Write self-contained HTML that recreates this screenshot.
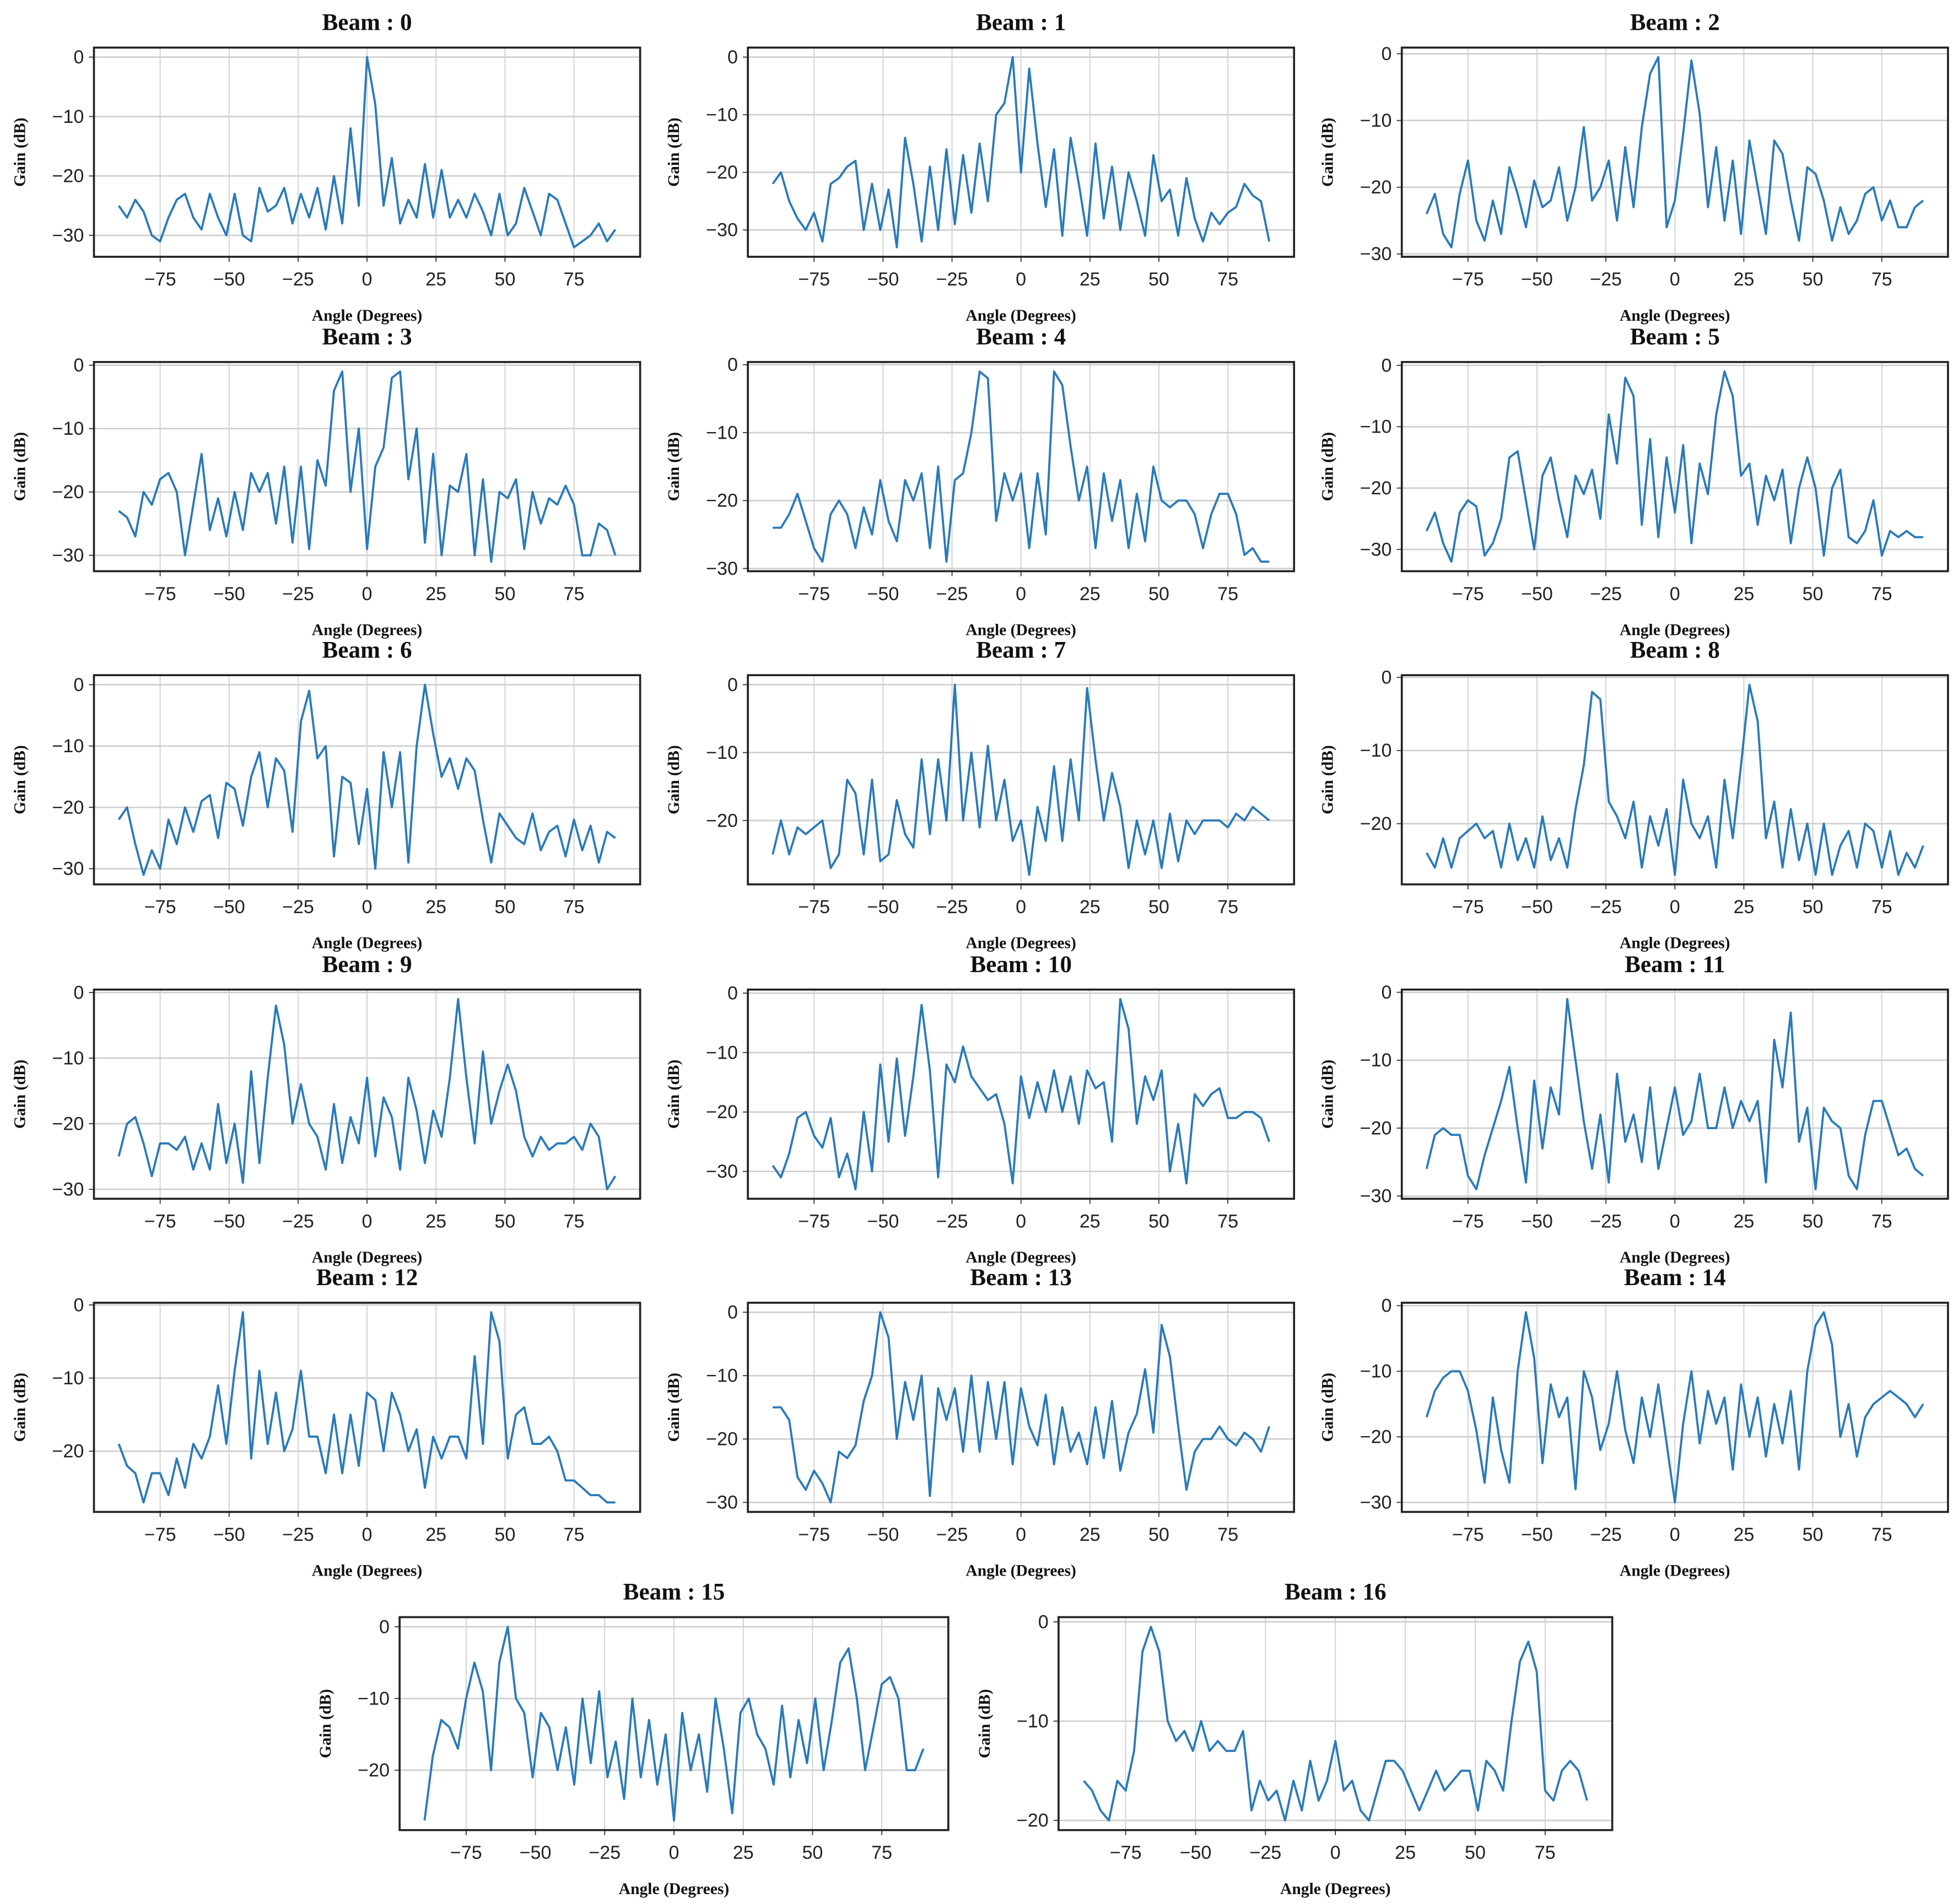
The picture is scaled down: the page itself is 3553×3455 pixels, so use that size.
<!DOCTYPE html>
<html><head><meta charset="utf-8"><title>Beam patterns</title>
<style>
html,body{margin:0;padding:0;background:#fff;}
svg{display:block;}
.tick{font-family:"Liberation Sans Narrow","Liberation Sans",sans-serif;font-size:15px;fill:#222;}
.ttl{font-family:"Liberation Serif",serif;font-weight:bold;font-size:19px;fill:#111;}
.lab{font-family:"Liberation Serif",serif;font-weight:bold;font-size:13px;fill:#111;}
</style></head>
<body>
<svg id="fig" width="3553" height="3455" viewBox="0 0 1563 1520" preserveAspectRatio="none" xmlns="http://www.w3.org/2000/svg"></svg>
<script>
const angles = [];
for (let a = -90; a <= 90; a += 3) angles.push(a);
const xTicks = [-75, -50, -25, 0, 25, 50, 75];
const beam0 = [-25,-27,-24,-26,-30,-31,-27,-24,-23,-27,-29,-23,-27,-30,-23,-30,-31,-22,-26,-25,-22,-28,-23,-27,-22,-29,-20,-28,-12,-25,0,-8,-25,-17,-28,-24,-27,-18,-27,-19,-27,-24,-27,-23,-26,-30,-23,-30,-28,-22,-26,-30,-23,-24,-28,-32,-31,-30,-28,-31,-29];
const beam1 = [-22,-20,-25,-28,-30,-27,-32,-22,-21,-19,-18,-30,-22,-30,-23,-33,-14,-22,-32,-19,-30,-16,-29,-17,-27,-15,-25,-10,-8,0,-20,-2,-15,-26,-16,-31,-14,-22,-31,-15,-28,-19,-30,-20,-25,-31,-17,-25,-23,-31,-21,-28,-32,-27,-29,-27,-26,-22,-24,-25,-32];
const beam2 = [-24,-21,-27,-29,-21,-16,-25,-28,-22,-27,-17,-21,-26,-19,-23,-22,-17,-25,-20,-11,-22,-20,-16,-25,-14,-23,-11,-3,-0.5,-26,-22,-12,-1,-9,-23,-14,-25,-16,-27,-13,-20,-27,-13,-15,-22,-28,-17,-18,-22,-28,-23,-27,-25,-21,-20,-25,-22,-26,-26,-23,-22];
const beam3 = [-23,-24,-27,-20,-22,-18,-17,-20,-30,-22,-14,-26,-21,-27,-20,-26,-17,-20,-17,-25,-16,-28,-16,-29,-15,-19,-4,-1,-20,-10,-29,-16,-13,-2,-1,-18,-10,-28,-14,-30,-19,-20,-14,-30,-18,-31,-20,-21,-18,-29,-20,-25,-21,-22,-19,-22,-30,-30,-25,-26,-30];
const beam4 = [-24,-24,-22,-19,-23,-27,-29,-22,-20,-22,-27,-21,-25,-17,-23,-26,-17,-20,-16,-27,-15,-29,-17,-16,-10,-1,-2,-23,-16,-20,-16,-27,-16,-25,-1,-3,-12,-20,-15,-27,-16,-23,-17,-27,-19,-26,-15,-20,-21,-20,-20,-22,-27,-22,-19,-19,-22,-28,-27,-29,-29];
const beam5 = [-27,-24,-29,-32,-24,-22,-23,-31,-29,-25,-15,-14,-22,-30,-18,-15,-22,-28,-18,-21,-17,-25,-8,-16,-2,-5,-26,-12,-28,-15,-24,-13,-29,-16,-21,-8,-1,-5,-18,-16,-26,-18,-22,-17,-29,-20,-15,-20,-31,-20,-17,-28,-29,-27,-22,-31,-27,-28,-27,-28,-28];
const beam6 = [-22,-20,-26,-31,-27,-30,-22,-26,-20,-24,-19,-18,-25,-16,-17,-23,-15,-11,-20,-12,-14,-24,-6,-1,-12,-10,-28,-15,-16,-26,-17,-30,-11,-20,-11,-29,-10,0,-8,-15,-12,-17,-12,-14,-22,-29,-21,-23,-25,-26,-21,-27,-24,-23,-28,-22,-27,-23,-29,-24,-25];
const beam7 = [-25,-20,-25,-21,-22,-21,-20,-27,-25,-14,-16,-25,-14,-26,-25,-17,-22,-24,-11,-22,-11,-20,0,-20,-10,-21,-9,-20,-14,-23,-20,-28,-18,-23,-12,-23,-11,-20,-0.5,-11,-20,-13,-18,-27,-20,-25,-20,-27,-19,-26,-20,-22,-20,-20,-20,-21,-19,-20,-18,-19,-20];
const beam8 = [-24,-26,-22,-26,-22,-21,-20,-22,-21,-26,-20,-25,-22,-26,-19,-25,-22,-26,-18,-12,-2,-3,-17,-19,-22,-17,-26,-19,-23,-18,-27,-14,-20,-22,-19,-26,-14,-22,-12,-1,-6,-22,-17,-26,-18,-25,-20,-27,-20,-27,-23,-21,-26,-20,-21,-26,-21,-27,-24,-26,-23];
const beam9 = [-25,-20,-19,-23,-28,-23,-23,-24,-22,-27,-23,-27,-17,-26,-20,-29,-12,-26,-13,-2,-8,-20,-14,-20,-22,-27,-17,-26,-19,-23,-13,-25,-16,-19,-27,-13,-18,-26,-18,-22,-13,-1,-13,-23,-9,-20,-15,-11,-15,-22,-25,-22,-24,-23,-23,-22,-24,-20,-22,-30,-28];
const beam10 = [-29,-31,-27,-21,-20,-24,-26,-21,-31,-27,-33,-20,-30,-12,-25,-11,-24,-14,-2,-13,-31,-12,-15,-9,-14,-16,-18,-17,-22,-32,-14,-21,-15,-20,-13,-20,-14,-22,-13,-16,-15,-25,-1,-6,-22,-14,-18,-13,-30,-22,-32,-17,-19,-17,-16,-21,-21,-20,-20,-21,-25];
const beam11 = [-26,-21,-20,-21,-21,-27,-29,-24,-20,-16,-11,-20,-28,-13,-23,-14,-18,-1,-10,-19,-26,-18,-28,-12,-22,-18,-25,-14,-26,-20,-14,-21,-19,-12,-20,-20,-14,-20,-16,-19,-16,-28,-7,-14,-3,-22,-17,-29,-17,-19,-20,-27,-29,-21,-16,-16,-20,-24,-23,-26,-27];
const beam12 = [-19,-22,-23,-27,-23,-23,-26,-21,-25,-19,-21,-18,-11,-19,-9,-1,-21,-9,-19,-12,-20,-17,-9,-18,-18,-23,-15,-23,-15,-22,-12,-13,-20,-12,-15,-20,-17,-25,-18,-21,-18,-18,-21,-7,-19,-1,-5,-21,-15,-14,-19,-19,-18,-20,-24,-24,-25,-26,-26,-27,-27];
const beam13 = [-15,-15,-17,-26,-28,-25,-27,-30,-22,-23,-21,-14,-10,0,-4,-20,-11,-17,-10,-29,-12,-17,-12,-22,-10,-22,-11,-20,-11,-24,-12,-18,-21,-13,-24,-15,-22,-19,-24,-15,-23,-14,-25,-19,-16,-9,-19,-2,-7,-18,-28,-22,-20,-20,-18,-20,-21,-19,-20,-22,-18];
const beam14 = [-17,-13,-11,-10,-10,-13,-19,-27,-14,-22,-27,-10,-1,-8,-24,-12,-17,-14,-28,-10,-14,-22,-18,-10,-19,-24,-14,-20,-12,-21,-30,-18,-10,-21,-13,-18,-14,-25,-12,-20,-14,-23,-15,-21,-13,-25,-10,-3,-1,-6,-20,-15,-23,-17,-15,-14,-13,-14,-15,-17,-15];
const beam15 = [-27,-18,-13,-14,-17,-10,-5,-9,-20,-5,0,-10,-12,-21,-12,-14,-20,-14,-22,-10,-19,-9,-21,-16,-24,-10,-21,-13,-22,-15,-27,-12,-20,-15,-23,-10,-17,-26,-12,-10,-15,-17,-22,-11,-21,-13,-19,-10,-20,-13,-5,-3,-10,-20,-14,-8,-7,-10,-20,-20,-17];
const beam16 = [-16,-17,-19,-20,-16,-17,-13,-3,-0.5,-3,-10,-12,-11,-13,-10,-13,-12,-13,-13,-11,-19,-16,-18,-17,-20,-16,-19,-14,-18,-16,-12,-17,-16,-19,-20,-17,-14,-14,-15,-17,-19,-17,-15,-17,-16,-15,-15,-19,-14,-15,-17,-10,-4,-2,-5,-17,-18,-15,-14,-15,-18];
const beams = [beam0,beam1,beam2,beam3,beam4,beam5,beam6,beam7,beam8,beam9,beam10,beam11,beam12,beam13,beam14,beam15,beam16];

const NS = "http://www.w3.org/2000/svg";
const svg = document.getElementById('fig');
function mk(tag, attrs, parent) {
  const e = document.createElementNS(NS, tag);
  for (const k in attrs) e.setAttribute(k, attrs[k]);
  parent.appendChild(e);
  return e;
}
const colX = [75, 597, 1119];
const rowY = [38, 289, 539, 790, 1040];
const W = 436, H = 167;
function boxFor(i) {
  if (i < 15) return {x: colX[i % 3], y: rowY[Math.floor(i / 3)], w: W, h: H};
  if (i === 15) return {x: 319, y: 1291, w: 438, h: 170};
  return {x: 845, y: 1291, w: 442, h: 170};
}
beams.forEach(function (data, i) {
  const b = boxFor(i);
  const g = mk('g', {}, svg);
  
  
  const xmin = -99, xmax = 99;
  let dmin = Math.min.apply(null, data), dmax = Math.max.apply(null, data);
  const pad = (dmax - dmin) * 0.05;
  const ymin = dmin - pad, ymax = dmax + pad;
  const sx = v => b.x + (v - xmin) / (xmax - xmin) * b.w;
  const sy = v => b.y + (ymax - v) / (ymax - ymin) * b.h;
  xTicks.forEach(function (t) {
    const l = mk('line', {x1: sx(t), x2: sx(t), y1: b.y, y2: b.y + b.h, stroke: '#cfcfcf', 'stroke-width': 0.8}, g);
    
    
    mk('line', {x1: sx(t), x2: sx(t), y1: b.y + b.h, y2: b.y + b.h + 4, stroke: '#333', 'stroke-width': 0.8}, g);
    const tx = mk('text', {x: sx(t), y: b.y + b.h + 23, 'text-anchor': 'middle', class: 'tick'}, g);
    tx.textContent = (t < 0 ? '\u2212' + (-t) : '' + t);
    
    
  });
  for (let t = Math.ceil(ymin / 10) * 10; t <= ymax; t += 10) {
    const l = mk('line', {x1: b.x, x2: b.x + b.w, y1: sy(t), y2: sy(t), stroke: '#cfcfcf', 'stroke-width': 1.2}, g);
    
    
    mk('line', {x1: b.x - 4, x2: b.x, y1: sy(t), y2: sy(t), stroke: '#333', 'stroke-width': 0.8}, g);
    const ty = mk('text', {x: b.x - 8, y: sy(t) + 5, 'text-anchor': 'end', class: 'tick'}, g);
    ty.textContent = (t < 0 ? '\u2212' + (-t) : '' + t);
    
    
  }
  const fr = mk('rect', {x: b.x, y: b.y, width: b.w, height: b.h, fill: 'none', stroke: '#222', 'stroke-width': 1.6}, g);
  
  
  const pts = data.map((v, k) => sx(angles[k]).toFixed(1) + ',' + sy(v).toFixed(1)).join(' ');
  const pl = mk('polyline', {points: pts, fill: 'none', stroke: '#2a7ab9', 'stroke-width': 1.7, 'stroke-linejoin': 'round'}, g);
  
  
  const tt = mk('text', {x: b.x + b.w / 2, y: b.y - 14, 'text-anchor': 'middle', class: 'ttl'}, g);
  tt.textContent = 'Beam : ' + i;
  
  
  const xl = mk('text', {x: b.x + b.w / 2, y: b.y + b.h + 51, 'text-anchor': 'middle', class: 'lab'}, g);
  xl.textContent = 'Angle (Degrees)';
  
  
  const cy = b.y + b.h / 2;
  const yl = mk('text', {x: b.x - 55, y: cy, 'text-anchor': 'middle', class: 'lab', transform: 'rotate(-90 ' + (b.x - 55) + ' ' + cy + ')'}, g);
  yl.textContent = 'Gain (dB)';
  
  
});
</script>
</body></html>
